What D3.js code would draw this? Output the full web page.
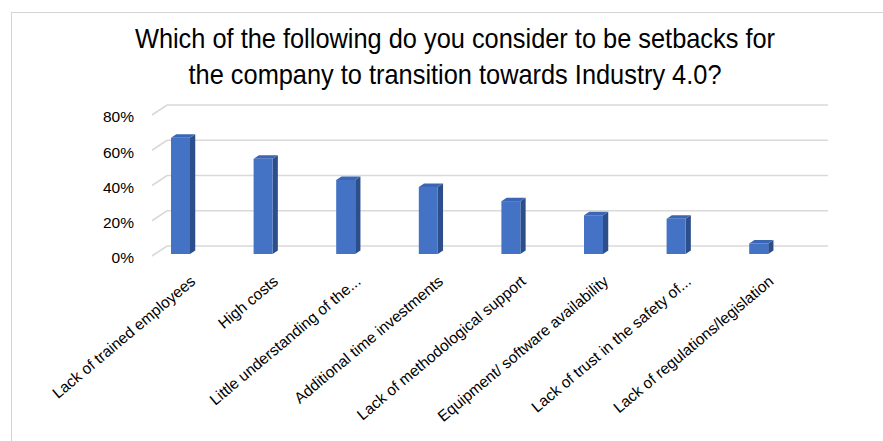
<!DOCTYPE html>
<html>
<head>
<meta charset="utf-8">
<script src="https://cdn.jsdelivr.net/npm/d3@7"></script>
<style>
  html, body { margin: 0; padding: 0; background: #fff; }
  svg { display: block; font-family: "Liberation Sans", Arial, sans-serif; }
</style>
</head>
<body>
<svg id="chart" width="883" height="441"></svg>
<script>
// Survey answers: share of respondents naming each setback
const categories = [
  "Lack of trained employees",
  "High costs",
  "Little understanding of the...",
  "Additional time investments",
  "Lack of methodological support",
  "Equipment/ software availability",
  "Lack of trust in the safety of...",
  "Lack of regulations/legislation"
];
const values = [0.66, 0.54, 0.42, 0.38, 0.30, 0.22, 0.20, 0.06];
const yTicks = [0, 0.2, 0.4, 0.6, 0.8];
const titleLines = [
  "Which of the following do you consider to be setbacks for",
  "the company to transition towards Industry 4.0?"
];

const svg = d3.select("#chart");
const W = 883, H = 441;

// frame around the chart area
svg.append("rect")
  .attr("x", 11.5).attr("y", 12.5)
  .attr("width", W).attr("height", H)
  .attr("fill", "none").attr("stroke", "#d4d4d4").attr("stroke-width", 1);

// title (slightly condensed face)
const titleX = 455;
svg.append("text")
  .attr("transform", `translate(${titleX},48) scale(0.94,1)`)
  .attr("text-anchor", "middle")
  .attr("font-size", 27).attr("fill", "#000")
  .selectAll("tspan").data(titleLines).join("tspan")
  .attr("x", 0).attr("y", (d, i) => i * 36)
  .text(d => d);

// 3D floor depth: offset from the front plane to the back wall
const depth = { dx: 15, dy: -10 };
const plotLeft = 152, plotRight = 813;

// value scale in the front plane
const y = d3.scaleLinear().domain([0, 0.8]).range([256, 115]);

// category scale (bar front faces)
const x = d3.scaleBand()
  .domain(categories)
  .range([136.2, 797])
  .paddingInner(0.77)
  .paddingOuter(0.385);

// gridlines on the back wall plus the slanted side-wall edge
const grid = svg.append("g").attr("fill", "none")
  .attr("stroke", "#d9d9d9").attr("stroke-width", 1.6);
grid.selectAll("path").data(yTicks).join("path")
  .attr("d", t => {
    const p = d3.path();
    p.moveTo(plotLeft, y(t));
    p.lineTo(plotLeft + depth.dx, y(t) + depth.dy);
    p.lineTo(plotRight + depth.dx, y(t) + depth.dy);
    return p.toString();
  });

// y axis labels
const yAxis = d3.axisLeft(y).tickValues(yTicks).tickFormat(d3.format(".0%")).tickSize(0).tickPadding(0);
const yAxisG = svg.append("g").attr("transform", "translate(134,2)").call(yAxis);
yAxisG.select(".domain").remove();
yAxisG.selectAll("text")
  .attr("font-size", 15.5).attr("fill", "#000")
  .attr("font-family", "Liberation Sans, Arial, sans-serif");

// 3D columns: front face, right side face, top face
const zFront = 0.2, zBack = 0.55;
const bars = svg.append("g").selectAll("g").data(categories).join("g");
const fx = zFront * depth.dx, fy = zFront * depth.dy;
const bx = zBack * depth.dx, by = zBack * depth.dy;
const bw = x.bandwidth();

bars.append("path") // side
  .attr("fill", "#2c4f8c")
  .attr("d", (c, i) => {
    const x1 = x(c) + fx + bw, yb = y(0) + fy, yt = y(values[i]) + fy;
    const ox = bx - fx, oy = by - fy;
    return `M${x1},${yb}L${x1 + ox},${yb + oy}L${x1 + ox},${yt + oy}L${x1},${yt}Z`;
  });
bars.append("path") // top
  .attr("fill", "#3b66b5")
  .attr("d", (c, i) => {
    const x0 = x(c) + fx, yt = y(values[i]) + fy;
    const ox = bx - fx, oy = by - fy;
    return `M${x0},${yt}L${x0 + bw},${yt}L${x0 + bw + ox},${yt + oy}L${x0 + ox},${yt + oy}Z`;
  });
bars.append("rect") // front
  .attr("fill", "#4472c4")
  .attr("x", c => x(c) + fx)
  .attr("y", (c, i) => y(values[i]) + fy)
  .attr("width", bw)
  .attr("height", (c, i) => y(0) - y(values[i]));

// rotated category labels
svg.append("g").selectAll("text").data(categories).join("text")
  .attr("transform", c => `translate(${x(c) + fx + bw / 2 + 16},283) rotate(-40)`)
  .attr("text-anchor", "end")
  .attr("font-size", 15.5).attr("fill", "#000")
  .text(c => c);
</script>
</body>
</html>
